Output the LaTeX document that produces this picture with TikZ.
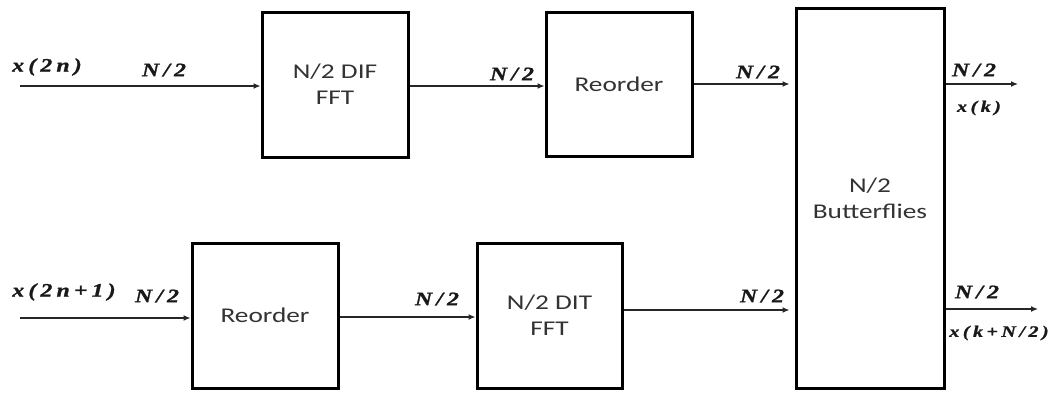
\documentclass[tikz,border=0pt]{standalone}
\usepackage{fontspec}
\usetikzlibrary{arrows.meta}
\newfontfamily\boxfont[FakeStretch=1.3]{Carlito}
\newfontfamily\lblfont[FakeStretch=1.25,LetterSpace=22,FakeBold=1.2]{Liberation Serif Bold Italic}
\begin{document}
\begin{tikzpicture}[x=1pt,y=-1pt,
  blk/.style={draw=black,line width=3pt,fill=white,inner sep=0pt,align=center,
    font=\boxfont\fontsize{21}{26}\selectfont,text=black!80},
  sig/.style={draw=black!85,line width=1.3pt,-{Latex[length=7pt,width=6pt]}},
  lbl/.style={font=\lblfont\fontsize{19}{22}\selectfont,text=black!90,inner sep=0pt},
  slbl/.style={font=\lblfont\fontsize{16}{19}\selectfont,text=black!90,inner sep=0pt}]
\useasboundingbox (0,0) rectangle (1052,392);
% blocks
\node[blk,minimum width=146pt,minimum height=145pt] (b1) at (335,84.5) {N/2 DIF\\FFT};
\node[blk,minimum width=146pt,minimum height=144pt] (b2) at (619,84) {Reorder};
\node[blk,minimum width=148pt,minimum height=380pt] (bf) at (870,198) {N/2\\Butterflies};
\node[blk,minimum width=146pt,minimum height=145pt] (b3) at (265,315.5) {Reorder};
\node[blk,minimum width=145pt,minimum height=145pt] (b4) at (549.5,315.5) {N/2 DIT\\FFT};
% coordinates
\coordinate (i1) at (20,86);
\coordinate (i2) at (20,318);
\coordinate (o1) at (1018,84);
\coordinate (o2) at (1038,309);
\coordinate (m3) at (0,310);
% connectors
\draw[sig] (i1) -- (i1 -| b1.west);
\draw[sig] (b1.east |- i1) -- (b2.west |- i1);
\draw[sig,shorten >=5pt] (b2.east |- o1) -- (bf.west |- o1);
\draw[sig] (bf.east |- o1) -- (o1);
\draw[sig] (i2) -- (i2 -| b3.west);
\draw[sig] (b3.east |- 0,317) -- (b4.west |- 0,317);
\draw[sig,shorten >=5pt] (b4.east |- m3) -- (bf.west |- m3);
\draw[sig] (bf.east |- o2) -- (o2);
% labels
\node[lbl] (lx1) at (47,67) {x(2n)};
\node[lbl] (ln1) at (164,70) {N/2};
\node[lbl] (ln2) at (512,74) {N/2};
\node[lbl] (ln3) at (758,72) {N/2};
\node[lbl] (ln4) at (974,70) {N/2};
\node[slbl] (lk1) at (979,108) {x(k)};
\node[lbl] (lx2) at (64,292) {x(2n+1)};
\node[lbl] (ln5) at (157,296) {N/2};
\node[lbl] (ln6) at (437,299) {N/2};
\node[lbl] (ln7) at (762,296) {N/2};
\node[lbl] (ln8) at (977,292) {N/2};
\node[slbl] (lk2) at (999,333) {x(k+N/2)};
\end{tikzpicture}
\end{document}
